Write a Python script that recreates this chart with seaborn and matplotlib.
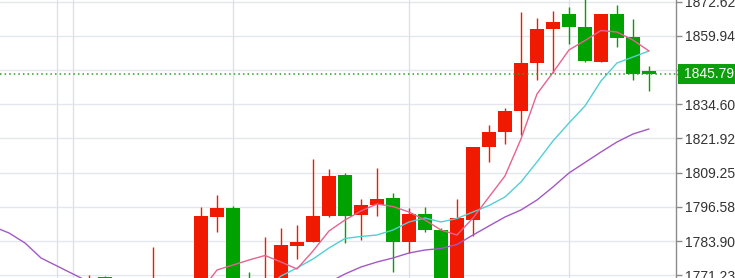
import numpy as np
import pandas as pd
import matplotlib
matplotlib.use("Agg")
import matplotlib.pyplot as plt
import seaborn as sns
from matplotlib.transforms import blended_transform_factory
from matplotlib.patches import Rectangle

# ---- data (candles partly below the view are estimated) ----
opens = [1768, 1766, 1762, 1760, 1758, 1757, 1755, 1770.6, 1761, 1757, 1760,
         1768, 1762, 1766, 1792.93, 1796.34, 1769.5, 1762, 1768, 1782.15, 1783.37,
         1793.30, 1808.39, 1793.38, 1797.12, 1799.97, 1783.44, 1793.93, 1788.00, 1766, 1791.71,
         1818.77, 1824.44, 1832.29, 1849.79, 1862.39, 1868.06, 1863.13, 1850.16, 1867.95, 1859.65,
         1847.01]
highs = [1769, 1768, 1765, 1763, 1762, 1761, 1771.3, 1770.9, 1765, 1762, 1781.8,
         1769.5, 1768, 1796.64, 1800.98, 1796.90, 1772.55, 1785.52, 1788.74, 1789.86, 1814.21,
         1810.50, 1809.02, 1799.42, 1810.87, 1801.61, 1796.16, 1796.71, 1788.63, 1799.38, 1818.95,
         1826.92, 1833.22, 1868.91, 1866.47, 1869.17, 1870.77, 1874.0, 1868.06, 1871.40, 1866.10,
         1848.97]
lows = [1762, 1760, 1757, 1755, 1754, 1752, 1753, 1758, 1754, 1752, 1756,
        1758, 1757, 1764, 1787.37, 1763, 1760, 1758, 1765, 1777.18, 1783.37,
        1792.82, 1783.07, 1784.30, 1793.08, 1772.55, 1779.59, 1787.08, 1763, 1763, 1785.78,
        1813.21, 1819.80, 1823.03, 1843.60, 1846.08, 1856.83, 1850.16, 1850.09, 1855.72, 1843.60,
        1839.34]
closes = [1766, 1762, 1760, 1758, 1757, 1755, 1766, 1761, 1757, 1760, 1768,
          1762, 1766, 1793.30, 1796.27, 1766, 1764, 1768, 1782.44, 1783.37, 1793.19,
          1808.13, 1793.19, 1797.27, 1799.38, 1783.44, 1793.82, 1787.89, 1766, 1792.34, 1818.88,
          1824.44, 1832.29, 1850.01, 1862.39, 1865.21, 1863.06, 1850.64, 1867.95, 1859.05, 1845.82,
          1845.79]

nan = np.nan
ma_pink = [nan, nan, nan, nan, nan, nan, nan, nan, nan, nan, nan,
           nan, 1760, 1765.4, 1773.18, 1775.03, 1776.88, 1778.55, 1776.14, 1773.55, 1780.22,
           1787.63, 1791.71, 1795.05, 1797.64, 1796.71, 1794.67, 1791.71, 1788.00, 1786.15, 1792.45,
           1800.23, 1808.02, 1821.73, 1838.41, 1846.38, 1854.72, 1858.24, 1861.95, 1861.39, 1858.42,
           1854.35]
ma_cyan = [nan, nan, nan, nan, nan, nan, nan, nan, nan, nan, nan,
           nan, nan, nan, nan, nan, 1762, 1765.76, 1770.96, 1773.92, 1777.26,
           1781.33, 1784.85, 1785.60, 1786.15, 1788.00, 1790.97, 1792.45, 1790.97, 1792.27, 1794.67,
           1797.08, 1800.23, 1805.80, 1813.21, 1821.00, 1827.66, 1833.96, 1843.23, 1849.90, 1852.12,
           1854.35]
ma_purple = [1789.3, 1786.89, 1783.19, 1777.63, 1774.66, 1771.70, 1768.73, 1766, 1764, 1762, 1761,
             1760, 1759.5, 1759.5, 1760, 1761, 1762, 1763, 1764, 1765, 1766,
             1768.6, 1771.70, 1774.29, 1776.14, 1777.63, 1779.48, 1780.59, 1781.15, 1782.63, 1786.15,
             1789.49, 1792.82, 1795.42, 1799.12, 1803.94, 1809.13, 1813.02, 1816.91, 1820.62, 1823.58,
             1825.44]

ytick_values = [1771.23, 1783.90, 1796.58, 1809.25, 1821.92, 1834.60, 1847.27, 1859.94, 1872.62]
ytick_labels = ["1771.23", "1783.90", "1796.58", "1809.25", "1821.92", "1834.60", "", "1859.94", "1872.62"]
last_price = 1845.79
last_price_label = "1845.79"
vgrid_idx = [3, 4, 14, 25, 35]

# ---- style ----
UP = "#f01a00"
DOWN = "#00a200"
PINK = "#e6638e"
CYAN = "#52cfd6"
PURPLE = "#a258c6"

sns.set_theme(style="white")
plt.rcParams["font.family"] = ["Liberation Sans", "DejaVu Sans"]

fig = plt.figure(figsize=(7.35, 2.78), dpi=100)
ax = fig.add_axes([0, 0, 676 / 735, 1])

n = len(opens)
df = pd.DataFrame({
    "idx": np.arange(n) - 1,
    "open": opens, "high": highs, "low": lows, "close": closes,
    "ma_pink": ma_pink, "ma_cyan": ma_cyan, "ma_purple": ma_purple,
})
df["up"] = df["close"] >= df["open"]
colors = [UP if u else DOWN for u in df["up"]]

# grid
for v in ytick_values:
    ax.axhline(v, color="#e4e8ee", lw=1, zorder=0)
for gx in vgrid_idx:
    ax.axvline(gx, color="#dbe2ec", lw=1, zorder=0)

# candles
ax.vlines(df["idx"], df["low"], df["high"], colors=colors, lw=1.0, zorder=2)
body_bottom = np.minimum(df["open"], df["close"])
body_height = np.abs(df["close"] - df["open"])
ax.bar(df["idx"], body_height, bottom=body_bottom, width=0.9, color=colors,
       linewidth=0, zorder=3)

# moving averages
sns.lineplot(data=df, x="idx", y="ma_purple", color=PURPLE, lw=1.0, ax=ax, zorder=4)
sns.lineplot(data=df, x="idx", y="ma_cyan", color=CYAN, lw=1.0, ax=ax, zorder=4)
sns.lineplot(data=df, x="idx", y="ma_pink", color=PINK, lw=1.0, ax=ax, zorder=4)

# last price dotted line
ax.axhline(last_price, color="#2a9e2a", lw=1.1, ls=(0, (1, 2)), zorder=5)

ax.set_xlim(-0.5625, 41.69)
ax.set_ylim(1770.21, 1873.25)
ax.set_xlabel("")
ax.set_ylabel("")
ax.set_xticks([])

ax.yaxis.tick_right()
ax.set_yticks(ytick_values)
ax.set_yticklabels(ytick_labels)
ax.set_yticks([last_price], minor=True)
ax.set_yticklabels([""], minor=True)
ax.tick_params(axis="y", which="both", length=4, width=1, color="#8c8c8c",
               pad=2.5, labelsize=10, labelcolor="#333333", right=True, left=False)

for s in ["top", "left", "bottom"]:
    ax.spines[s].set_visible(False)
ax.spines["right"].set_color("#8c8c8c")
ax.spines["right"].set_linewidth(1)

# last price label box
tr = blended_transform_factory(fig.transFigure, ax.transData)
ax.add_patch(Rectangle((678 / 735, last_price - 3.75), 60 / 735, 7.5, transform=tr,
                       facecolor="#0c9f0c", edgecolor="none", clip_on=False, zorder=10))
ax.text(684 / 735, last_price, last_price_label, transform=tr, color="white",
        fontsize=10, va="center", ha="left", zorder=11, clip_on=False)

fig.savefig("out.png", dpi=100)
